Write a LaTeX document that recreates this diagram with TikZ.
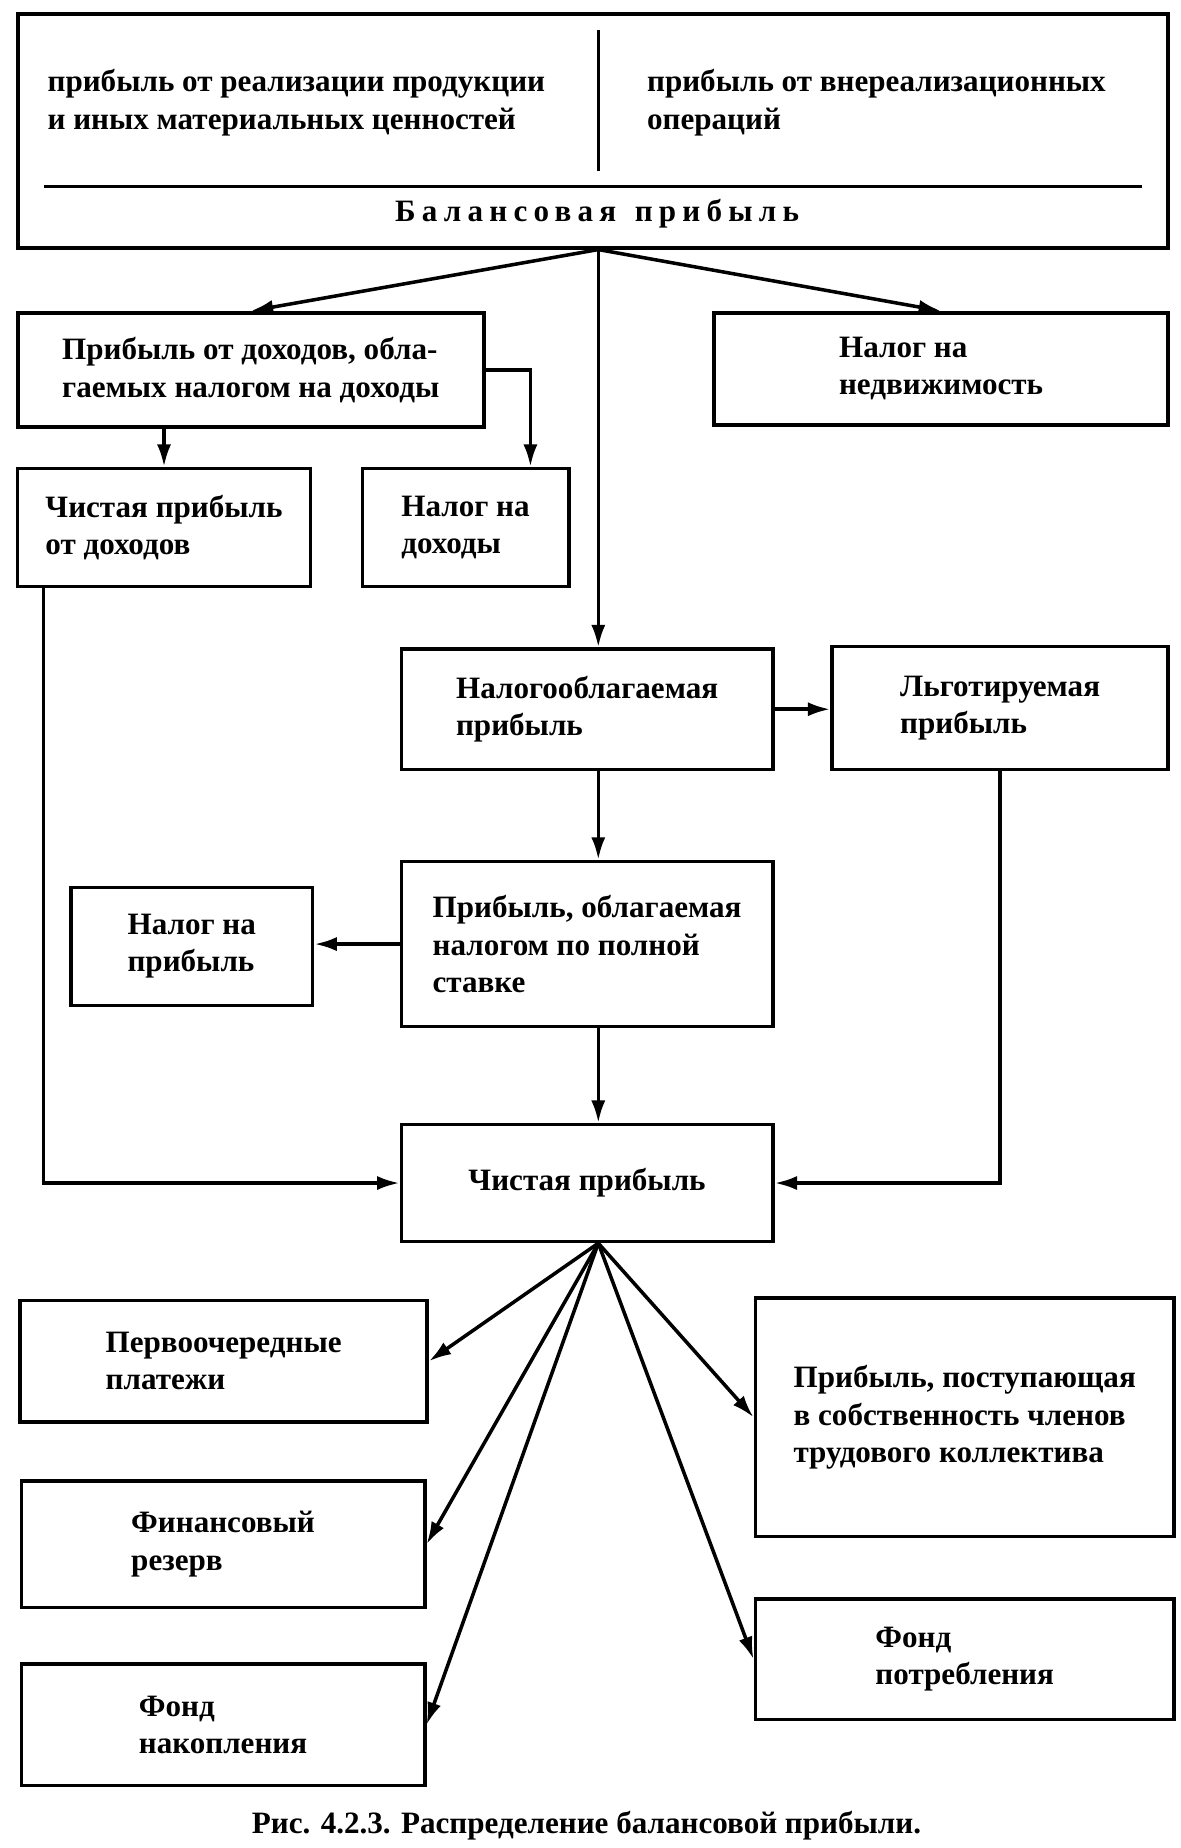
\documentclass[tikz,border=0pt]{standalone}
\usepackage{fontspec}
\setmainfont{Liberation Serif}
\usetikzlibrary{arrows.meta}
\tikzset{
	txt/.style={align=left, inner sep=0pt, font=\fontsize{15}{18}\selectfont\bfseries},
	box/.style={txt, draw, line width=1.7pt},
	conn/.style={line width=1.7pt},
	arr/.style={conn, -{Latex[length=3.8mm,width=2.4mm]}},
}

\begin{document}
\begin{tikzpicture}[x=0.02cm, y=-0.02cm]
		%%%%% START %%%%%
		\fill[white] (0,0) rectangle (1000,1566);
		\useasboundingbox (0,0) rectangle (1000,1566);
		\coordinate (spine) at (507,0);
		
		% balance profit
		\node[box, minimum width=19.5cm, minimum height=3.96cm] (balance) at (502.5,111) {};
		\node[txt, anchor=west] (sales) at (40,87) {прибыль от реализации продукции\\и иных материальных ценностей};
		\node[txt, anchor=west] (other) at (548,87) {прибыль от внереализационных\\операций};
		\draw[conn] (507,25) -- (507,145);
		\draw[conn] (37,158) -- (968,158);
		\node[txt, font=\fontsize{15}{18}\selectfont\bfseries\addfontfeature{LetterSpace=20}] (baltitle) at (506,181) {Балансовая\hspace{0.6em}прибыль};
		
		% first level
		\node[box, minimum width=7.9cm, minimum height=1.94cm] (income) at (212.5,313.5) {Прибыль от доходов, обла-\\гаемых налогом на доходы};
		\node[box, minimum width=7.7cm, minimum height=1.9cm] (realty) at (797.5,312.5) {Налог на\\недвижимость};
		\node[box, minimum width=4.96cm, minimum height=2cm] (netinc) at (139,447) {Чистая прибыль\\от доходов};
		\node[box, minimum width=3.5cm, minimum height=2cm] (inctax) at (394.5,447) {Налог на\\доходы};
		
		% taxation
		\node[box, minimum width=6.3cm, minimum height=2.04cm] (taxable) at (497.5,601) {Налогооблагаемая\\прибыль};
		\node[box, minimum width=5.7cm, minimum height=2.08cm] (benefit) at (847.5,600) {Льготируемая\\прибыль};
		\node[box, minimum width=6.3cm, minimum height=2.8cm] (fullrate) at (497.5,800) {Прибыль, облагаемая\\налогом по полной\\ставке};
		\node[box, minimum width=4.1cm, minimum height=2cm] (profittax) at (162.5,802) {Налог на\\прибыль};
		\node[box, minimum width=6.3cm, minimum height=1.98cm] (net) at (497.5,1002.5) {Чистая прибыль};
		
		% distribution
		\node[box, minimum width=6.9cm, minimum height=2.06cm] (first) at (189.5,1153.5) {Первоочередные\\платежи};
		\node[box, minimum width=6.84cm, minimum height=2.14cm] (reserve) at (189,1308.5) {Финансовый\\резерв};
		\node[box, minimum width=6.84cm, minimum height=2.06cm] (accum) at (189,1461.5) {Фонд\\накопления};
		\node[box, minimum width=7.1cm, minimum height=4.04cm] (members) at (817.5,1201) {Прибыль, поступающая\\в собственность членов\\трудового коллектива};
		\node[box, minimum width=7.1cm, minimum height=2.04cm] (consum) at (817.5,1406) {Фонд\\потребления};
		
		\node[txt, font=\fontsize{15}{18}\selectfont\bfseries] (caption) at (497,1547) {Рис. 4.2.3. Распределение балансовой прибыли.};
		
		% connectors
		\draw[arr] (balance.south -| spine) -- (income.north);
		\draw[arr] (balance.south -| spine) -- (realty.north);
		\draw[arr] (balance.south -| spine) -- (taxable.north -| spine);
		\draw[arr] (income.south -| netinc) -- (netinc.north);
		\draw[arr] (income.east) -| ([xshift=1.1cm]inctax.north);
		\draw[arr] ([xshift=-2.04cm]netinc.south) |- (net.west);
		\draw[arr] (taxable.east) -- (taxable.east -| benefit.west);
		\draw[arr] (benefit.south) |- (net.east);
		\draw[arr] (taxable.south -| spine) -- (fullrate.north -| spine);
		\draw[arr] (fullrate.west) -- (fullrate.west -| profittax.east);
		\draw[arr] (fullrate.south -| spine) -- (net.north -| spine);
		\foreach \dest in {first, reserve, accum}
			\draw[arr] (net.south -| spine) -- (\dest.east);
		\foreach \dest in {members, consum}
			\draw[arr] (net.south -| spine) -- (\dest.west);
		
		%%%%% END %%%%%
\end{tikzpicture}
\end{document}
